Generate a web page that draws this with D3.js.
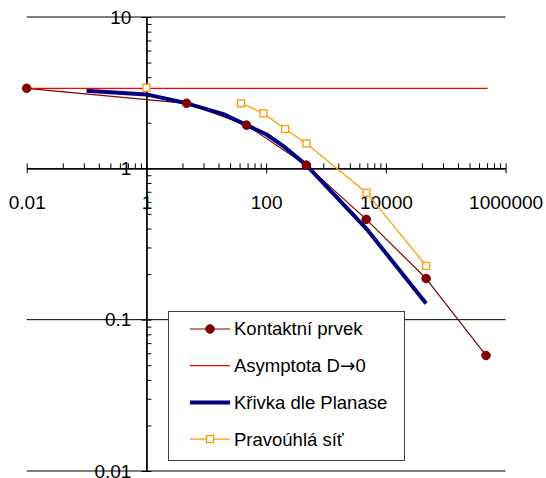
<!DOCTYPE html>
<html>
<head>
<meta charset="utf-8">
<script src="https://cdn.jsdelivr.net/npm/d3@7"></script>
<style>
body { margin: 0; background: #fff; }
svg { display: block; font-family: "Liberation Sans", Arial, sans-serif; }
</style>
</head>
<body>
<svg id="chart" width="546" height="478"></svg>
<script>
//data
var kontaktX = [0.01, 4.7, 47, 470, 4700, 47000, 470000];
var kontaktY = [3.38, 2.69, 1.93, 1.05, 0.46, 0.187, 0.058];

var asymX = [0.01, 500000];
var asymY = [3.38, 3.38];

var planasX = [0.1, 1, 4.7, 20, 47, 100, 200, 470, 4700, 47000];
var planasY = [3.25, 3.08, 2.69, 2.27, 1.93, 1.68, 1.39, 1.05, 0.40, 0.128];

//first point of this series stands alone (not joined by the line)
var pravoX = [1, 38, 90, 207, 470, 4750, 47000];
var pravoY = [3.41, 2.69, 2.31, 1.82, 1.46, 0.69, 0.227];

var xMajor = [0.01, 1, 100, 10000, 1000000];
var yMajor = [0.01, 0.1, 1, 10];
var legendNames = ['Kontaktní prvek', 'Asymptota D\u21920', 'Křivka dle Planase', 'Pravoúhlá síť'];

//minor ticks: x axis has base 100, minor at k^2, y axis at k
var xMinor = [];
xMajor.slice(0, -1).forEach(m => { for (var k = 2; k <= 9; k++) xMinor.push(m * k * k); });
var yMinor = [];
yMajor.slice(0, -1).forEach(m => { for (var k = 2; k <= 9; k++) yMinor.push(m * k); });

var svg = d3.select('#chart');

var x = d3.scaleLog().domain([0.01, 1000000]).range([26.7, 505.6]);
var y = d3.scaleLog().domain([0.01, 10]).range([471, 17]);

//horizontal gridlines
svg.selectAll('.grid')
	.data(yMajor.filter(v => v != 1))
	.join('line')
	.classed('grid', true)
	.attr('x1', x(0.01)).attr('x2', x(1000000))
	.attr('y1', d => y(d)).attr('y2', d => y(d))
	.style('stroke', '#000').style('stroke-width', 1);

var fmt = d => d3.format('~f')(d);

//x axis at y = 1
var xAxisG = svg.append('g').attr('transform', `translate(0,${y(1)})`);
xAxisG.call(d3.axisBottom(x).tickValues(xMajor).tickFormat(fmt).tickSizeInner(5).tickSizeOuter(0).tickPadding(22));
xAxisG.append('g').call(d3.axisTop(x).tickValues(xMajor).tickFormat('').tickSizeInner(5).tickSizeOuter(0));
xAxisG.append('g').call(d3.axisTop(x).tickValues(xMinor).tickFormat('').tickSizeInner(5).tickSizeOuter(0));

//y axis at x = 1
var yAxisG = svg.append('g').attr('transform', `translate(${x(1)},0)`);
yAxisG.call(d3.axisLeft(y).tickValues(yMajor).tickFormat(fmt).tickSizeInner(5).tickSizeOuter(0).tickPadding(10));
yAxisG.append('g').call(d3.axisRight(y).tickValues(yMajor).tickFormat('').tickSizeInner(5).tickSizeOuter(0));
yAxisG.append('g').call(d3.axisRight(y).tickValues(yMinor).tickFormat('').tickSizeInner(5).tickSizeOuter(0));

svg.selectAll('.domain').style('stroke', '#000');
svg.selectAll('.tick line').style('stroke', '#000');
svg.selectAll('.tick text').style('font-size', '19px').style('fill', '#000').style('font-family', '"Liberation Sans", Arial, sans-serif');

//series
var series = [
	{name: legendNames[0], xs: kontaktX, ys: kontaktY, color: '#800000', width: 1.2, marker: 'circle', lineFrom: 0},
	{name: legendNames[1], xs: asymX, ys: asymY, color: '#ff0000', width: 1.2, marker: null, lineFrom: 0},
	{name: legendNames[2], xs: planasX, ys: planasY, color: '#000080', width: 4, marker: null, lineFrom: 0},
	{name: legendNames[3], xs: pravoX, ys: pravoY, color: '#ff9900', width: 1.2, marker: 'square', lineFrom: 1}
];

var line = d3.line().x(d => x(d[0])).y(d => y(d[1]));

series.forEach(s => {
	svg.append('path')
		.datum(d3.zip(s.xs, s.ys).slice(s.lineFrom))
		.attr('d', line)
		.style('fill', 'none')
		.style('stroke', s.color)
		.style('stroke-width', s.width)
		.style('stroke-linejoin', 'round');
});

function drawMarker(g, s, cx, cy) {
	if (s.marker == 'circle') {
		g.append('circle').attr('cx', cx).attr('cy', cy).attr('r', 4.3)
			.style('fill', s.color).style('stroke', s.color);
	} else if (s.marker == 'square') {
		g.append('rect').attr('x', cx - 3.5).attr('y', cy - 3.5).attr('width', 7).attr('height', 7)
			.style('fill', '#fff').style('stroke', s.color).style('stroke-width', 1.3);
	}
}

series.forEach(s => {
	if (!s.marker) return;
	var g = svg.append('g');
	d3.zip(s.xs, s.ys).forEach(d => drawMarker(g, s, x(d[0]), y(d[1])));
});

//legend
var legend = svg.append('g').attr('transform', 'translate(168,311)');
legend.append('rect')
	.attr('x', 0.5).attr('y', 0.5).attr('width', 236).attr('height', 149)
	.style('fill', '#fff').style('stroke', '#404040').style('stroke-width', 1);

series.forEach((s, i) => {
	var cy = 18 + i * 36.7;
	legend.append('line')
		.attr('x1', 22).attr('x2', 62).attr('y1', cy).attr('y2', cy)
		.style('stroke', s.color).style('stroke-width', s.width);
	drawMarker(legend, s, 42, cy);
	var t = legend.append('text')
		.attr('x', 66).attr('y', cy).attr('dy', '0.35em')
		.style('font-size', '18.5px').style('fill', '#000');
	//arrow glyph comes from DejaVu, which has it at a proper size
	s.name.split(/(\u2192)/).forEach(part => {
		if (!part) return;
		var ts = t.append('tspan').text(part);
		if (part == '\u2192') ts.style('font-family', '"DejaVu Sans", sans-serif');
	});
});
</script>
</body>
</html>
